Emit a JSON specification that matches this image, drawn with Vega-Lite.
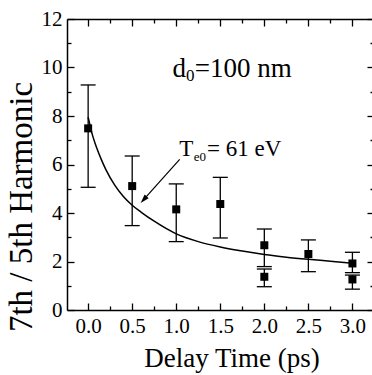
{
  "$schema": "https://vega.github.io/schema/vega-lite/v6.json",
  "width": 307,
  "height": 291,
  "autosize": {"type": "none"},
  "padding": {"left": 67, "top": 19, "right": -2, "bottom": 65},
  "background": "white",
  "config": {
    "view": {"stroke": null},
    "axis": {
      "grid": false,
      "labelFont": "Liberation Serif, Times New Roman, DejaVu Serif, serif",
      "titleFont": "Liberation Serif, Times New Roman, DejaVu Serif, serif",
      "titleFontWeight": "normal",
      "labelColor": "black",
      "titleColor": "black",
      "tickColor": "black",
      "domainColor": "black",
      "domainWidth": 1.5,
      "tickWidth": 1.3,
      "labelOverlap": false,
      "labelFlush": false
    },
    "text": {"font": "Liberation Serif, Times New Roman, DejaVu Serif, serif", "color": "black"}
  },
  "data": {
    "values": [
      {"t": 0.0, "r": 7.49, "lo": 5.06, "hi": 9.28},
      {"t": 0.5, "r": 5.11, "lo": 3.48, "hi": 6.35},
      {"t": 1.0, "r": 4.15, "lo": 2.82, "hi": 5.20},
      {"t": 1.5, "r": 4.37, "lo": 2.97, "hi": 5.47},
      {"t": 2.0, "r": 2.67, "lo": 1.79, "hi": 3.34},
      {"t": 2.0, "r": 1.37, "lo": 0.96, "hi": 1.69},
      {"t": 2.5, "r": 2.31, "lo": 1.58, "hi": 2.89},
      {"t": 3.0, "r": 1.92, "lo": 1.54, "hi": 2.38},
      {"t": 3.0, "r": 1.26, "lo": 0.86, "hi": 1.44}
    ]
  },
  "resolve": {"axis": {"x": "independent", "y": "independent"}},
  "layer": [
    {
      "mark": {"type": "rule", "color": "black", "strokeWidth": 1.3, "opacity": 1},
      "encoding": {
        "x": {"field": "t", "type": "quantitative",
          "scale": {"domain": [-0.24, 3.245], "nice": false, "zero": false},
          "axis": {"orient": "bottom", "values": [0, 0.5, 1, 1.5, 2, 2.5, 3], "format": ".1f",
            "tickSize": -7, "labelPadding": 12.5, "labelFontSize": 21,
            "title": "Delay Time (ps)", "titleFontSize": 27, "titleX": 164.5, "titleY": 56,
            "titleBaseline": "alphabetic", "titleAlign": "center", "titleAnchor": null}},
        "y": {"field": "lo", "type": "quantitative",
          "scale": {"domain": [0, 12], "nice": false, "zero": false},
          "axis": {"orient": "left", "values": [0, 2, 4, 6, 8, 10, 12], "format": "d",
            "tickSize": -7, "labelPadding": 12, "labelFontSize": 21,
            "title": "7th / 5th Harmonic", "titleFontSize": 33, "titleX": -36, "titleY": 187.5,
            "titleBaseline": "alphabetic", "titleAlign": "center", "titleAngle": -90, "titleAnchor": null}},
        "y2": {"field": "hi"}
      }
    },
    {
      "mark": {"type": "tick", "orient": "horizontal", "size": 15, "thickness": 1.3, "color": "black", "opacity": 1},
      "encoding": {
        "x": {"field": "t", "type": "quantitative",
          "scale": {"domain": [-0.24, 3.245], "nice": false, "zero": false},
          "axis": {"orient": "top", "values": [0, 0.5, 1, 1.5, 2, 2.5, 3], "tickSize": -7, "labels": false, "title": null}},
        "y": {"field": "hi", "type": "quantitative",
          "scale": {"domain": [0, 12], "nice": false, "zero": false},
          "axis": {"orient": "right", "values": [0, 2, 4, 6, 8, 10, 12], "tickSize": -7, "labels": false, "title": null}}
      }
    },
    {
      "mark": {"type": "tick", "orient": "horizontal", "size": 15, "thickness": 1.3, "color": "black", "opacity": 1},
      "encoding": {
        "x": {"field": "t", "type": "quantitative",
          "scale": {"domain": [-0.24, 3.245], "nice": false, "zero": false},
          "axis": {"orient": "bottom", "values": [0.25, 0.75, 1.25, 1.75, 2.25, 2.75], "tickSize": -4, "labels": false, "domain": false, "title": null}},
        "y": {"field": "lo", "type": "quantitative",
          "scale": {"domain": [0, 12], "nice": false, "zero": false},
          "axis": {"orient": "left", "values": [1, 3, 5, 7, 9, 11], "tickSize": -4, "labels": false, "domain": false, "title": null}}
      }
    },
    {
      "mark": {"type": "point", "shape": "square", "size": 64, "filled": true, "color": "black", "opacity": 1},
      "encoding": {
        "x": {"field": "t", "type": "quantitative",
          "scale": {"domain": [-0.24, 3.245], "nice": false, "zero": false},
          "axis": {"orient": "top", "values": [0.25, 0.75, 1.25, 1.75, 2.25, 2.75], "tickSize": -4, "labels": false, "domain": false, "title": null}},
        "y": {"field": "r", "type": "quantitative",
          "scale": {"domain": [0, 12], "nice": false, "zero": false},
          "axis": {"orient": "right", "values": [1, 3, 5, 7, 9, 11], "tickSize": -4, "labels": false, "domain": false, "title": null}}
      }
    },
    {
      "data": {"values": [
        {"t": 0.0, "r": 7.95}, {"t": 0.05, "r": 7.2}, {"t": 0.1, "r": 6.66}, {"t": 0.15, "r": 6.2},
        {"t": 0.2, "r": 5.8}, {"t": 0.3, "r": 5.16}, {"t": 0.4, "r": 4.68}, {"t": 0.5, "r": 4.32},
        {"t": 0.6, "r": 4.04}, {"t": 0.75, "r": 3.66}, {"t": 1.0, "r": 3.14}, {"t": 1.25, "r": 2.82},
        {"t": 1.5, "r": 2.6}, {"t": 1.75, "r": 2.43}, {"t": 2.0, "r": 2.29}, {"t": 2.25, "r": 2.18},
        {"t": 2.5, "r": 2.09}, {"t": 2.75, "r": 2.01}, {"t": 3.0, "r": 1.93}
      ]},
      "mark": {"type": "line", "color": "black", "strokeWidth": 1.5, "interpolate": "monotone"},
      "encoding": {
        "x": {"field": "t", "type": "quantitative", "scale": {"domain": [-0.24, 3.245], "nice": false, "zero": false}, "axis": null},
        "y": {"field": "r", "type": "quantitative", "scale": {"domain": [0, 12], "nice": false, "zero": false}, "axis": null}
      }
    },
    {
      "data": {"values": [{"t": 1.039, "r": 6.21, "t2": 0.63, "r2": 4.55}]},
      "mark": {"type": "rule", "color": "black", "strokeWidth": 1.2},
      "encoding": {
        "x": {"field": "t", "type": "quantitative", "scale": {"domain": [-0.24, 3.245], "nice": false, "zero": false}, "axis": null},
        "y": {"field": "r", "type": "quantitative", "scale": {"domain": [0, 12], "nice": false, "zero": false}, "axis": null},
        "x2": {"field": "t2"},
        "y2": {"field": "r2"}
      }
    },
    {
      "data": {"values": [{"t": 0.63, "r": 4.55}]},
      "mark": {"type": "point", "shape": "M0,-1L0.6,1L-0.6,1Z", "size": 81, "angle": 222, "filled": true, "color": "black", "opacity": 1},
      "encoding": {
        "x": {"field": "t", "type": "quantitative", "scale": {"domain": [-0.24, 3.245], "nice": false, "zero": false}, "axis": null},
        "y": {"field": "r", "type": "quantitative", "scale": {"domain": [0, 12], "nice": false, "zero": false}, "axis": null}
      }
    },
    {
      "data": {"values": [{"t": 0.959, "r": 9.62, "label": "d"}, {"t": 1.21, "r": 9.62, "label": "=100 nm"}]},
      "mark": {"type": "text", "fontSize": 27, "align": "left", "baseline": "alphabetic"},
      "encoding": {
        "x": {"field": "t", "type": "quantitative", "scale": {"domain": [-0.24, 3.245], "nice": false, "zero": false}, "axis": null},
        "y": {"field": "r", "type": "quantitative", "scale": {"domain": [0, 12], "nice": false, "zero": false}, "axis": null},
        "text": {"field": "label"}
      }
    },
    {
      "data": {"values": [{"t": 1.11, "r": 9.46, "label": "0"}]},
      "mark": {"type": "text", "fontSize": 17, "align": "left", "baseline": "alphabetic"},
      "encoding": {
        "x": {"field": "t", "type": "quantitative", "scale": {"domain": [-0.24, 3.245], "nice": false, "zero": false}, "axis": null},
        "y": {"field": "r", "type": "quantitative", "scale": {"domain": [0, 12], "nice": false, "zero": false}, "axis": null},
        "text": {"field": "label"}
      }
    },
    {
      "data": {"values": [{"t": 1.035, "r": 6.35, "label": "T"}, {"t": 1.35, "r": 6.35, "label": "= 61 eV"}]},
      "mark": {"type": "text", "fontSize": 23, "align": "left", "baseline": "alphabetic"},
      "encoding": {
        "x": {"field": "t", "type": "quantitative", "scale": {"domain": [-0.24, 3.245], "nice": false, "zero": false}, "axis": null},
        "y": {"field": "r", "type": "quantitative", "scale": {"domain": [0, 12], "nice": false, "zero": false}, "axis": null},
        "text": {"field": "label"}
      }
    },
    {
      "data": {"values": [{"t": 1.198, "r": 6.16, "label": "e0"}]},
      "mark": {"type": "text", "fontSize": 13, "align": "left", "baseline": "alphabetic"},
      "encoding": {
        "x": {"field": "t", "type": "quantitative", "scale": {"domain": [-0.24, 3.245], "nice": false, "zero": false}, "axis": null},
        "y": {"field": "r", "type": "quantitative", "scale": {"domain": [0, 12], "nice": false, "zero": false}, "axis": null},
        "text": {"field": "label"}
      }
    }
  ]
}
